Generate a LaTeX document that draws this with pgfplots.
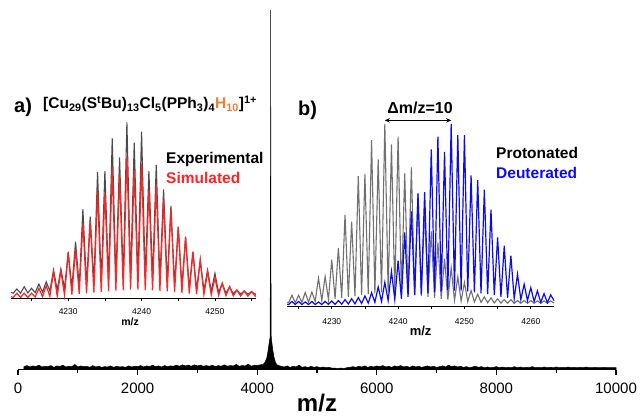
\documentclass[border=0pt]{standalone}
\usepackage{pgfplots}
\pgfplotsset{compat=1.18}
\usepackage{fontspec}
\setmainfont{Liberation Sans}
\usetikzlibrary{arrows.meta}
\definecolor{expgray}{RGB}{75,75,75}
\definecolor{protgray}{RGB}{112,112,112}
\definecolor{simred}{RGB}{255,35,35}
\definecolor{deublue}{RGB}{10,10,245}
\definecolor{horange}{RGB}{237,125,49}
\begin{document}
\begin{tikzpicture}
% ---------------- main spectrum ----------------
\begin{axis}[
  at={(18pt,46.5pt)}, anchor=south west,
  scale only axis, width=598pt, height=359.5pt,
  xmin=0, xmax=10000, ymin=0, ymax=1,
  axis x line*=bottom, axis y line=none,
  xtick={0,2000,4000,6000,8000,10000},
  minor xtick={1000,3000,5000,7000,9000},
  tick align=outside, major tick length=5pt, minor tick length=3.5pt,
  every tick/.style={black, line width=1.1pt},
  axis line style={line width=1.2pt},
  scaled x ticks=false,
  /pgf/number format/1000 sep={},
  /pgf/number format/assume math mode=true,
  xticklabel style={font=\fontsize{15}{15}\selectfont, anchor=base, yshift=-18.5pt},
  xlabel={m/z},
  xlabel style={font=\fontsize{24}{24}\selectfont\bfseries, at={(axis description cs:0.5,0)}, anchor=base, yshift=-41.5pt},
  clip=false,
]
\addplot[black, fill=black, line width=0.5pt] coordinates {
(100,0.008) (150,0.011) (200,0.007) (250,0.010) (300,0.008) (350,0.012) (400,0.007) (450,0.009)
(500,0.008) (550,0.011) (600,0.006) (650,0.010) (700,0.008) (750,0.012) (800,0.007) (850,0.009)
(900,0.008) (950,0.014) (1000,0.007) (1050,0.010) (1100,0.008) (1150,0.009) (1200,0.006) (1250,0.011)
(1300,0.007) (1350,0.009) (1400,0.006) (1450,0.008) (1500,0.007) (1550,0.010) (1600,0.006) (1650,0.009)
(1700,0.007) (1750,0.008) (1800,0.006) (1850,0.010) (1900,0.007) (1950,0.009) (2000,0.008) (2050,0.011)
(2100,0.007) (2150,0.010) (2200,0.008) (2250,0.012) (2300,0.008) (2350,0.010) (2400,0.007) (2450,0.011)
(2500,0.008) (2550,0.010) (2600,0.009) (2650,0.012) (2700,0.009) (2750,0.013) (2800,0.010) (2850,0.012)
(2900,0.009) (2950,0.013) (3000,0.010) (3050,0.012) (3100,0.009) (3150,0.011) (3200,0.009) (3250,0.012)
(3300,0.008) (3350,0.011) (3400,0.009) (3450,0.013) (3500,0.009) (3550,0.011) (3600,0.010) (3650,0.014)
(3700,0.009) (3750,0.011) (3800,0.010) (3850,0.015) (3900,0.009) (3950,0.012) (4000,0.011) (4050,0.013)
(4100,0.014) (4130,0.020) (4160,0.032) (4180,0.050) (4195,0.068) (4205,0.080) (4215,0.088)
(4221,0.30) (4225,1.0) (4229,0.30) (4235,0.088) (4245,0.075) (4260,0.055) (4280,0.035) (4305,0.020)
(4330,0.013) (4360,0.011)
(4400,0.009) (4450,0.007) (4500,0.010) (4550,0.006) (4600,0.009) (4650,0.007) (4700,0.012) (4750,0.006)
(4800,0.008) (4850,0.005) (4900,0.009) (4950,0.006) (5000,0.008) (5050,0.005) (5100,0.007) (5150,0.005)
(5200,0.006) (5250,0.004) (5300,0.004) (5350,0.003) (5400,0.004) (5450,0.003) (5500,0.005) (5550,0.006)
(5600,0.008) (5650,0.006) (5700,0.009) (5750,0.007) (5800,0.010) (5850,0.006) (5900,0.009) (5950,0.007)
(6000,0.010) (6050,0.008) (6100,0.011) (6150,0.007) (6200,0.009) (6250,0.006) (6300,0.010) (6350,0.008)
(6400,0.011) (6450,0.007) (6500,0.009) (6550,0.006) (6600,0.010) (6650,0.007) (6700,0.009) (6750,0.006)
(6800,0.008) (6850,0.010) (6900,0.007) (6950,0.009) (7000,0.006) (7050,0.008) (7100,0.010) (7150,0.007)
(7200,0.012) (7250,0.008) (7300,0.010) (7350,0.007) (7400,0.009) (7450,0.006) (7500,0.008) (7550,0.005)
(7600,0.007) (7650,0.009) (7700,0.006) (7750,0.008) (7800,0.005) (7850,0.007) (7900,0.005) (7950,0.006)
(8000,0.008) (8050,0.005) (8100,0.007) (8150,0.005) (8200,0.006) (8250,0.005) (8300,0.008) (8350,0.005)
(8400,0.007) (8450,0.005) (8500,0.006) (8550,0.005) (8600,0.008) (8650,0.005) (8700,0.006) (8750,0.005)
(8800,0.007) (8850,0.005) (8900,0.006) (8950,0.005) (9000,0.007) (9050,0.005) (9100,0.006) (9150,0.005)
(9200,0.007) (9250,0.005) (9300,0.006) (9350,0.005) (9400,0.006) (9450,0.005) (9500,0.007) (9550,0.005)
(9600,0.005) (9650,0.006) (9700,0.005) (9750,0.005) (9800,0.006) (9850,0.005) (9900,0.005) (9950,0.005)
(10000,0.005)
} \closedcycle;
\end{axis}

% ---------------- inset a ----------------
\begin{axis}[
  at={(11pt,117.5pt)}, anchor=south west,
  scale only axis, width=245pt, height=176pt,
  xmin=4222.2, xmax=4255.6, ymin=0, ymax=1,
  axis x line*=bottom, axis y line=none,
  xtick={4230,4240,4250}, minor xtick={4225,4235,4245,4255},
  tick align=outside, major tick length=2.5pt, minor tick length=2.5pt,
  every tick/.style={black, line width=0.6pt},
  axis line style={line width=0.7pt},
  /pgf/number format/1000 sep={},
  /pgf/number format/assume math mode=true,
  xticklabel style={font=\fontsize{8.5}{8.5}\selectfont, anchor=base, yshift=-13.5pt},
  xlabel={m/z},
  xlabel style={font=\fontsize{10.5}{10.5}\selectfont\bfseries, at={(axis description cs:0.486,0)}, anchor=base, yshift=-26.5pt},
  clip=false,
]
\addplot[expgray, line width=1.1pt] coordinates {
(4222.2,0.035) (4222.5,0.03) (4223,0.054) (4223.5,0.03) (4224,0.067) (4224.5,0.032) (4225,0.058) (4225.5,0.033)
(4226,0.082) (4226.5,0.036) (4227,0.095) (4227.5,0.042) (4228,0.162) (4228.5,0.048) (4229,0.168) (4229.5,0.055)
(4230,0.266) (4230.5,0.062) (4231,0.323) (4231.5,0.07) (4232,0.507) (4232.5,0.078) (4233,0.465) (4233.5,0.085)
(4234,0.720) (4234.5,0.09) (4235,0.724) (4235.5,0.095) (4236,0.910) (4236.5,0.1) (4237,0.802) (4237.5,0.11)
(4238,1.0) (4238.5,0.115) (4239,0.885) (4239.5,0.12) (4240,0.948) (4240.5,0.115) (4241,0.724) (4241.5,0.11)
(4242,0.759) (4242.5,0.1) (4243,0.620) (4243.5,0.09) (4244,0.526) (4244.5,0.08) (4245,0.408) (4245.5,0.07)
(4246,0.351) (4246.5,0.06) (4247,0.266) (4247.5,0.052) (4248,0.219) (4248.5,0.045) (4249,0.162) (4249.5,0.04)
(4250,0.143) (4250.5,0.035) (4251,0.086) (4251.5,0.03) (4252,0.067) (4252.5,0.027) (4253,0.048) (4253.5,0.025)
(4254,0.043) (4254.5,0.024) (4255,0.039) (4255.5,0.024) (4255.6,0.026)
};
\addplot[simred, line width=1.2pt] coordinates {
(4222.2,0.01) (4222.5,0.006) (4223,0.03) (4223.5,0.006) (4224,0.03) (4224.5,0.006) (4225,0.03) (4225.5,0.008)
(4226,0.058) (4226.5,0.01) (4227,0.073) (4227.5,0.012) (4228,0.152) (4228.5,0.015) (4229,0.156) (4229.5,0.018)
(4230,0.260) (4230.5,0.022) (4231,0.280) (4231.5,0.026) (4232,0.427) (4232.5,0.03) (4233,0.440) (4233.5,0.034)
(4234,0.607) (4234.5,0.038) (4235,0.598) (4235.5,0.042) (4236,0.745) (4236.5,0.045) (4237,0.702) (4237.5,0.048)
(4238,0.806) (4238.5,0.05) (4239,0.730) (4239.5,0.05) (4240,0.764) (4240.5,0.048) (4241,0.616) (4241.5,0.046)
(4242,0.650) (4242.5,0.043) (4243,0.560) (4243.5,0.04) (4244,0.508) (4244.5,0.036) (4245,0.406) (4245.5,0.032)
(4246,0.349) (4246.5,0.028) (4247,0.264) (4247.5,0.025) (4248,0.219) (4248.5,0.022) (4249,0.152) (4249.5,0.02)
(4250,0.116) (4250.5,0.018) (4251,0.086) (4251.5,0.016) (4252,0.067) (4252.5,0.015) (4253,0.048) (4253.5,0.014)
(4254,0.043) (4254.5,0.013) (4255,0.039) (4255.5,0.013) (4255.6,0.015)
};
\end{axis}

% ---------------- inset b ----------------
\begin{axis}[
  at={(287.3pt,110pt)}, anchor=south west,
  scale only axis, width=266.7pt, height=182pt,
  xmin=4223.3, xmax=4263.5, ymin=0, ymax=1,
  axis x line*=bottom, axis y line=none,
  xtick={4230,4240,4250,4260}, minor xtick={4225,4235,4245,4255},
  tick align=outside, major tick length=2.5pt, minor tick length=2.5pt,
  every tick/.style={black, line width=0.6pt},
  axis line style={line width=0.7pt},
  /pgf/number format/1000 sep={},
  /pgf/number format/assume math mode=true,
  xticklabel style={font=\fontsize{8.5}{8.5}\selectfont, anchor=base, yshift=-15.5pt},
  xlabel={m/z},
  xlabel style={font=\fontsize{13}{13}\selectfont\bfseries, at={(axis description cs:0.5,0)}, anchor=base, yshift=-29pt},
  clip=false,
]
\addplot[protgray, line width=1.1pt] coordinates {
(4223.3,0.02) (4223.5,0.018) (4224,0.059) (4224.5,0.018) (4225,0.059) (4225.5,0.02) (4226,0.074) (4226.5,0.022)
(4227,0.077) (4227.5,0.025) (4228,0.153) (4228.5,0.03) (4229,0.162) (4229.5,0.035) (4230,0.254) (4230.5,0.04)
(4231,0.319) (4231.5,0.045) (4232,0.501) (4232.5,0.05) (4233,0.464) (4233.5,0.055) (4234,0.714) (4234.5,0.06)
(4235,0.724) (4235.5,0.065) (4236,0.912) (4236.5,0.07) (4237,0.805) (4237.5,0.075) (4238,1.0) (4238.5,0.075)
(4239,0.888) (4239.5,0.075) (4240,0.930) (4240.5,0.07) (4241,0.728) (4241.5,0.065) (4242,0.761) (4242.5,0.06)
(4243,0.62) (4243.5,0.055) (4244,0.525) (4244.5,0.05) (4245,0.41) (4245.5,0.045) (4246,0.35) (4246.5,0.04)
(4247,0.26) (4247.5,0.035) (4248,0.21) (4248.5,0.03) (4249,0.16) (4249.5,0.027) (4250,0.13) (4250.5,0.024)
(4251,0.085) (4251.5,0.022) (4252,0.065) (4252.5,0.02) (4253,0.05) (4253.5,0.018) (4254,0.045) (4254.5,0.017)
(4255,0.04) (4255.5,0.016) (4256,0.035) (4256.5,0.015) (4257,0.035) (4257.5,0.015) (4258,0.03) (4258.5,0.015)
(4259,0.03) (4259.5,0.015) (4260,0.03) (4260.5,0.015) (4261,0.028) (4261.5,0.015) (4262,0.028) (4262.5,0.015)
(4263,0.028) (4263.5,0.016)
};
\addplot[deublue, line width=1.2pt] coordinates {
(4223.3,0.01) (4223.5,0.008) (4224,0.025) (4224.5,0.008) (4225,0.025) (4225.5,0.008) (4226,0.022) (4226.5,0.008)
(4227,0.025) (4227.5,0.008) (4228,0.022) (4228.5,0.008) (4229,0.025) (4229.5,0.009) (4230,0.028) (4230.5,0.009)
(4231,0.03) (4231.5,0.01) (4232,0.035) (4232.5,0.011) (4233,0.04) (4233.5,0.012) (4234,0.046) (4234.5,0.014)
(4235,0.055) (4235.5,0.016) (4236,0.073) (4236.5,0.02) (4237,0.105) (4237.5,0.025) (4238,0.13) (4238.5,0.03)
(4239,0.19) (4239.5,0.035) (4240,0.249) (4240.5,0.04) (4241,0.405) (4241.5,0.05) (4242,0.52) (4242.5,0.06)
(4243,0.617) (4243.5,0.065) (4244,0.626) (4244.5,0.07) (4245,0.86) (4245.5,0.075) (4246,0.93) (4246.5,0.08)
(4247,0.847) (4247.5,0.085) (4248,1.0) (4248.5,0.085) (4249,0.939) (4249.5,0.085) (4250,0.939) (4250.5,0.08)
(4251,0.718) (4251.5,0.075) (4252,0.691) (4252.5,0.07) (4253,0.639) (4253.5,0.065) (4254,0.529) (4254.5,0.06)
(4255,0.377) (4255.5,0.05) (4256,0.331) (4256.5,0.045) (4257,0.276) (4257.5,0.04) (4258,0.175) (4258.5,0.035)
(4259,0.12) (4259.5,0.03) (4260,0.101) (4260.5,0.025) (4261,0.083) (4261.5,0.02) (4262,0.068) (4262.5,0.018)
(4263,0.061) (4263.5,0.03)
};
\draw[{Stealth[length=5pt,width=4.5pt]}-{Stealth[length=5pt,width=4.5pt]}, line width=1.2pt]
  (axis cs:4238,1.02) -- (axis cs:4248,1.02);
\end{axis}

% ---------------- annotations ----------------
\node[anchor=base west, inner sep=0pt, font=\fontsize{20}{20}\selectfont\bfseries] at (14pt,303pt) {a)};
\node[anchor=base west, inner sep=0pt, font=\fontsize{15.5}{15.5}\selectfont\bfseries] at (43pt,307.5pt)
  {[Cu\textsubscript{29}(S\textsuperscript{t}Bu)\textsubscript{13}Cl\textsubscript{5}(PPh\textsubscript{3})\textsubscript{4}\textcolor{horange}{H\textsubscript{10}}]\textsuperscript{1+}};
\node[anchor=base west, inner sep=0pt, font=\fontsize{15.5}{15.5}\selectfont\bfseries] at (166pt,252.7pt) {Experimental};
\node[anchor=base west, inner sep=0pt, font=\fontsize{15.5}{15.5}\selectfont\bfseries, text=simred] at (166pt,232.7pt) {Simulated};
\node[anchor=base west, inner sep=0pt, font=\fontsize{20}{20}\selectfont\bfseries] at (298pt,301pt) {b)};
\node[anchor=base, inner sep=0pt, font=\fontsize{16}{16}\selectfont\bfseries] at (420pt,302pt) {Δm/z=10};
\node[anchor=base west, inner sep=0pt, font=\fontsize{15.5}{15.5}\selectfont\bfseries] at (496pt,257.7pt) {Protonated};
\node[anchor=base west, inner sep=0pt, font=\fontsize{15.5}{15.5}\selectfont\bfseries, text=deublue] at (496pt,237.7pt) {Deuterated};

\pgfresetboundingbox
\useasboundingbox (0,0) rectangle (640pt,416pt);
\end{tikzpicture}
\end{document}
